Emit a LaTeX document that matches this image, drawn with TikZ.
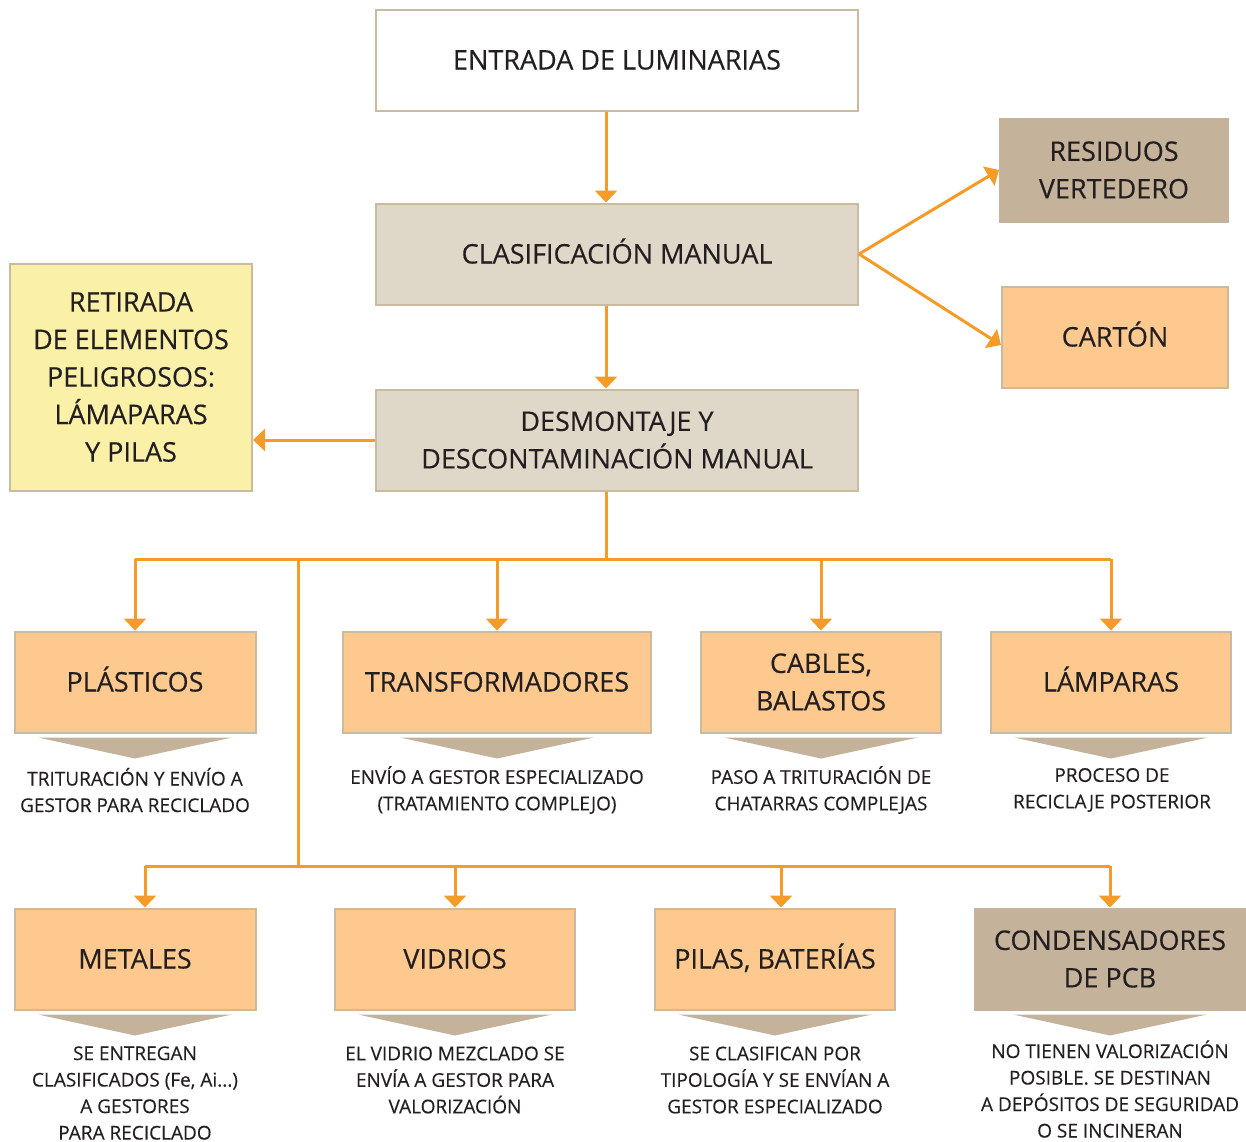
\documentclass[tikz,border=0pt]{standalone}
\usepackage{fontspec}
\setmainfont{Open Sans}[FakeBold=0.3]
\usetikzlibrary{arrows.meta,positioning}

\definecolor{flecha}{RGB}{244,155,42}
\definecolor{claro}{RGB}{223,216,200}
\definecolor{pardo}{RGB}{196,179,154}
\definecolor{melocoton}{RGB}{253,201,142}
\definecolor{amarillo}{RGB}{250,240,168}
\definecolor{borde}{RGB}{202,186,160}
\definecolor{texto}{RGB}{35,31,32}

\tikzset{
  caja/.style={draw=borde, line width=2pt, minimum height=101pt, align=center,
    text=texto, inner sep=0pt, font=\fontsize{27}{37.5}\selectfont},
  unalinea/.style={text height=19pt, text depth=0pt},
  nota/.style={align=center, text=texto, inner sep=0pt,
    font=\fontsize{19}{26.5}\selectfont},
  linea/.style={draw=flecha, line width=3pt},
  flujo/.style={linea, -{Triangle[width=22pt,length=12pt]}},
}

\begin{document}
\begin{tikzpicture}[x=1pt,y=-1pt]
   \useasboundingbox (0,0) rectangle (1246,1141);
   % upper chain
   \node[caja, unalinea, fill=white, minimum width=482pt] (entrada) at (617,60) {ENTRADA DE LUMINARIAS};
   \node[caja, unalinea, fill=claro, minimum width=482pt] (clasif) at (617,254) {CLASIFICACIÓN MANUAL};
   \node[caja, fill=claro, minimum width=482pt] (desmont) at (617,440) {DESMONTAJE Y\\DESCONTAMINACIÓN MANUAL};
   \node[caja, fill=pardo, draw=pardo, minimum width=228pt, minimum height=103pt] (residuos) at (1114,170) {RESIDUOS\\VERTEDERO};
   \node[caja, unalinea, fill=melocoton, minimum width=226pt] (carton) at (1115,337) {CARTÓN};
   \node[caja, fill=amarillo, minimum width=242pt, minimum height=227pt] (retirada) at (131,377)
      {RETIRADA\\DE ELEMENTOS\\PELIGROSOS:\\LÁMAPARAS\\Y PILAS};
   % first row
   \node[caja, unalinea, fill=melocoton, minimum width=241pt] (plasticos) at (135,682) {PLÁSTICOS};
   \node[caja, unalinea, fill=melocoton, minimum width=308pt] (transf) at (497,682) {TRANSFORMADORES};
   \node[caja, fill=melocoton, minimum width=240pt] (cables) at (821,682) {CABLES,\\BALASTOS};
   \node[caja, unalinea, fill=melocoton, minimum width=240pt] (lamparas) at (1111,682) {LÁMPARAS};
   % second row
   \node[caja, unalinea, fill=melocoton, minimum width=241pt] (metales) at (135,959) {METALES};
   \node[caja, unalinea, fill=melocoton, minimum width=240pt] (vidrios) at (455,959) {VIDRIOS};
   \node[caja, unalinea, fill=melocoton, minimum width=240pt] (pilas) at (775,959) {PILAS, BATERÍAS};
   \node[caja, fill=pardo, draw=pardo, minimum width=270pt] (condens) at (1110,959) {CONDENSADORES\\DE PCB};
   % pointers under the boxes
   \foreach \n in {plasticos,transf,cables,lamparas,metales,vidrios,pilas,condens}
     \fill[pardo] ([shift={(-97pt,-4pt)}]\n.south) -- ([shift={(97pt,-4pt)}]\n.south)
        -- ([yshift=-25pt]\n.south) -- cycle;
   % notes
   \node[nota] (nplasticos) at (135,790) {TRITURACIÓN Y ENVÍO A\\GESTOR PARA RECICLADO};
   \node[nota] (ntransf) at (497,790) {ENVÍO A GESTOR ESPECIALIZADO\\(TRATAMIENTO COMPLEJO)};
   \node[nota] (ncables) at (821,790) {PASO A TRITURACIÓN DE\\CHATARRAS COMPLEJAS};
   \node[nota] (nlamparas) at (1112,790) {PROCESO DE\\RECICLAJE POSTERIOR};
   \node[nota] (nmetales) at (135,1093) {SE ENTREGAN\\CLASIFICADOS (Fe, Ai...)\\A GESTORES\\PARA RECICLADO};
   \node[nota] (nvidrios) at (455,1080) {EL VIDRIO MEZCLADO SE\\ENVÍA A GESTOR PARA\\VALORIZACIÓN};
   \node[nota] (npilas) at (775,1080) {SE CLASIFICAN POR\\TIPOLOGÍA Y SE ENVÍAN A\\GESTOR ESPECIALIZADO};
   \node[nota] (ncondens) at (1110,1089) {NO TIENEN VALORIZACIÓN\\POSIBLE. SE DESTINAN\\A DEPÓSITOS DE SEGURIDAD\\O SE INCINERAN};
   % connectors
   \coordinate (eje) at (606,559);
   \coordinate (ramal) at (298,866);
   \draw[flujo] (entrada.south -| eje) -- (clasif.north -| eje);
   \draw[flujo] (clasif.south -| eje) -- (desmont.north -| eje);
   \draw[flujo] (clasif.east) -- (residuos.west);
   \draw[flujo] (clasif.east) -- ([yshift=-8pt]carton.west);
   \draw[flujo] (desmont.west) -- (desmont.west -| retirada.east);
   \draw[linea] (desmont.south -| eje) -- (eje);
   \draw[linea] (plasticos |- eje) -- (lamparas |- eje);
   \foreach \n in {plasticos,transf,cables,lamparas}
     \draw[flujo] (\n |- eje) -- (\n.north);
   \draw[linea] (eje -| ramal) -- (ramal);
   \draw[linea] ([xshift=10pt]metales |- ramal) -- (condens |- ramal);
   \draw[flujo] ([xshift=10pt]metales |- ramal) -- ([xshift=10pt]metales.north);
   \draw[flujo] (vidrios |- ramal) -- (vidrios.north);
   \draw[flujo] ([xshift=6pt]pilas |- ramal) -- ([xshift=6pt]pilas.north);
   \draw[flujo] (condens |- ramal) -- (condens.north);
\end{tikzpicture}
\end{document}
